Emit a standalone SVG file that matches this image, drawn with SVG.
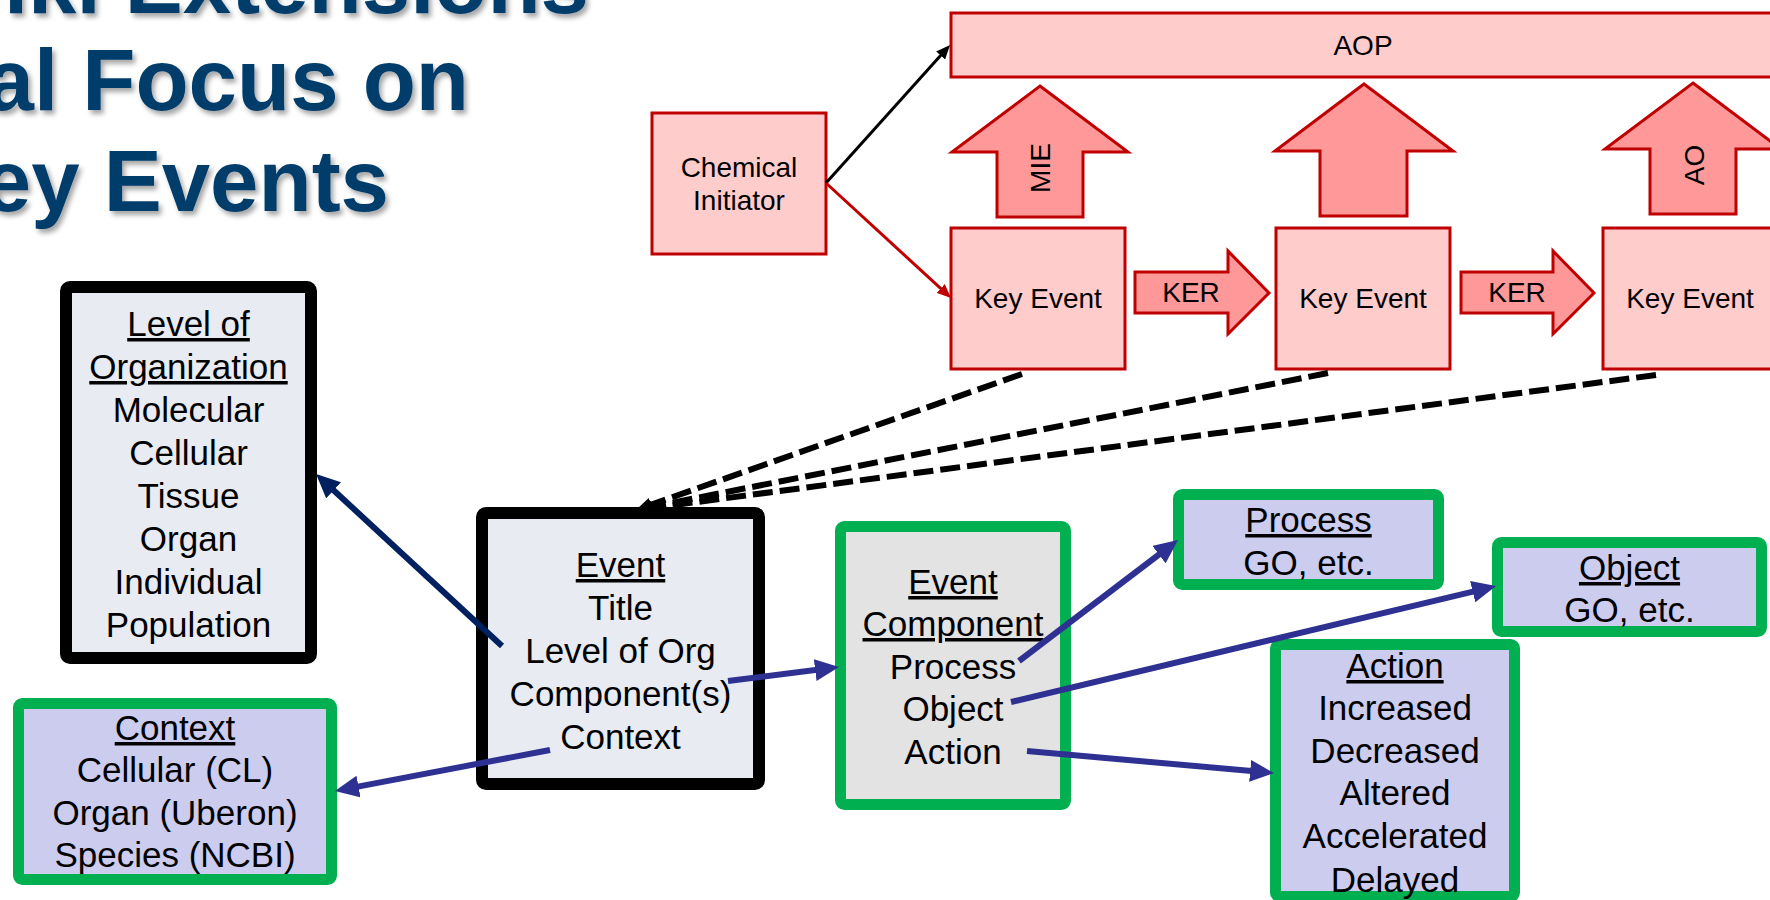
<svg xmlns="http://www.w3.org/2000/svg" width="1770" height="900" viewBox="0 0 1770 900">
  <defs>
    <style>
      .title { font-family: "Liberation Sans", Arial, sans-serif; font-weight: bold; font-size: 87px; fill: #003D6B; }
      .red-box { fill: #FFCCCC; stroke: #C00000; stroke-width: 3; }
      .block-arrow { fill: #FF9999; stroke: #C00000; stroke-width: 3; stroke-linejoin: miter; }
      .lbl28 { font-family: "Liberation Sans", Arial, sans-serif; font-size: 28px; fill: #000; text-anchor: middle; }
      .lbl35 { font-family: "Liberation Sans", Arial, sans-serif; font-size: 35px; fill: #000; text-anchor: middle; }
      .u { text-decoration: underline; }
      .black-frame { fill: #E8EBF1; stroke: #000; stroke-width: 12; }
      .green-frame { stroke: #00B050; stroke-width: 11; }
      .lav { fill: #CCCCEE; }
      .gray { fill: #E3E3E3; }
      .blue-link { stroke: #2E3192; stroke-width: 6; fill: none; }
      .navy-link { stroke: #002060; stroke-width: 6; fill: none; }
      .dash-link { stroke: #000; stroke-width: 6; fill: none; stroke-dasharray: 20 7; }
    </style>
    <filter id="shadow" x="-10%" y="-20%" width="120%" height="150%">
      <feDropShadow dx="3" dy="4" stdDeviation="2.5" flood-color="#000" flood-opacity="0.35"/>
    </filter>
    <marker id="head-blue" markerUnits="userSpaceOnUse" markerWidth="24" markerHeight="22" refX="10" refY="11" orient="auto">
      <path d="M0,0 L24,11 L0,22 z" fill="#2E3192"/>
    </marker>
    <marker id="head-navy" markerUnits="userSpaceOnUse" markerWidth="24" markerHeight="22" refX="10" refY="11" orient="auto">
      <path d="M0,0 L24,11 L0,22 z" fill="#002060"/>
    </marker>
    <marker id="head-black" markerUnits="userSpaceOnUse" markerWidth="14" markerHeight="12" refX="8" refY="6" orient="auto">
      <path d="M0,0 L14,6 L0,12 z" fill="#000"/>
    </marker>
    <marker id="head-red" markerUnits="userSpaceOnUse" markerWidth="14" markerHeight="12" refX="8" refY="6" orient="auto">
      <path d="M0,0 L14,6 L0,12 z" fill="#C00000"/>
    </marker>
    <marker id="head-dash" markerUnits="userSpaceOnUse" markerWidth="16" markerHeight="14" refX="8" refY="7" orient="auto">
      <path d="M0,0 L16,7 L0,14 z" fill="#000"/>
    </marker>
  </defs>

  <rect width="1770" height="900" fill="#FFFFFF"/>

  <!-- Slide title (runs off the left and top edges) -->
  <g id="title" filter="url(#shadow)">
    <text class="title" x="589" y="13" text-anchor="end">Wiki Extensions</text>
    <text class="title" x="469" y="110" text-anchor="end">al Focus on</text>
    <text class="title" x="389" y="211" text-anchor="end" font-size="86">ey Events</text>
  </g>

  <!-- AOP chain -->
  <g id="aop">
    <rect class="red-box" x="951" y="13" width="1000" height="64"/>
    <text class="lbl28" x="1363" y="55">AOP</text>
  </g>
  <g id="chemical-initiator">
    <rect class="red-box" x="652" y="113" width="174" height="141"/>
    <text class="lbl28" x="739" y="177">Chemical</text>
    <text class="lbl28" x="739" y="210">Initiator</text>
  </g>
  <g id="key-event-1">
    <rect class="red-box" x="951" y="228" width="174" height="141"/>
    <text class="lbl28" x="1038" y="308">Key Event</text>
  </g>
  <g id="key-event-2">
    <rect class="red-box" x="1276" y="228" width="174" height="141"/>
    <text class="lbl28" x="1363" y="308">Key Event</text>
  </g>
  <g id="key-event-3">
    <rect class="red-box" x="1603" y="228" width="174" height="141"/>
    <text class="lbl28" x="1690" y="308">Key Event</text>
  </g>
  <g id="mie-arrow">
    <polygon class="block-arrow" points="1040,86 1128,152 1083,152 1083,217 997,217 997,152 952,152"/>
    <text class="lbl28" transform="translate(1050,168) rotate(-90)">MIE</text>
  </g>
  <g id="ke-arrow">
    <polygon class="block-arrow" points="1364,84 1453,151 1407,151 1407,216 1320,216 1320,151 1275,151"/>
  </g>
  <g id="ao-arrow">
    <polygon class="block-arrow" points="1693,83 1781,149 1736,149 1736,214 1650,214 1650,149 1605,149"/>
    <text class="lbl28" transform="translate(1704,165) rotate(-90)">AO</text>
  </g>
  <g id="ker-1">
    <polygon class="block-arrow" points="1135,272 1228,272 1228,251 1269,293 1228,334 1228,313 1135,313"/>
    <text class="lbl28" x="1191" y="302">KER</text>
  </g>
  <g id="ker-2">
    <polygon class="block-arrow" points="1461,272 1553,272 1553,251 1594,293 1553,334 1553,313 1461,313"/>
    <text class="lbl28" x="1517" y="302">KER</text>
  </g>

  <!-- Event model -->
  <g id="level-of-organization">
    <rect class="black-frame" x="66" y="287" width="245" height="371" rx="4"/>
    <text class="lbl35 u" x="188.5" y="336">Level of</text>
    <text class="lbl35 u" x="188.5" y="379">Organization</text>
    <text class="lbl35" x="188.5" y="422">Molecular</text>
    <text class="lbl35" x="188.5" y="465">Cellular</text>
    <text class="lbl35" x="188.5" y="508">Tissue</text>
    <text class="lbl35" x="188.5" y="551">Organ</text>
    <text class="lbl35" x="188.5" y="594">Individual</text>
    <text class="lbl35" x="188.5" y="637">Population</text>
  </g>
  <g id="event">
    <rect class="black-frame" x="482" y="513" width="277" height="271" rx="4"/>
    <text class="lbl35 u" x="620.5" y="577">Event</text>
    <text class="lbl35" x="620.5" y="620">Title</text>
    <text class="lbl35" x="620.5" y="663">Level of Org</text>
    <text class="lbl35" x="620.5" y="706">Component(s)</text>
    <text class="lbl35" x="620.5" y="749">Context</text>
  </g>
  <g id="context">
    <rect class="green-frame lav" x="18.5" y="703.5" width="313" height="176" rx="4"/>
    <text class="lbl35 u" x="175" y="740">Context</text>
    <text class="lbl35" x="175" y="782">Cellular (CL)</text>
    <text class="lbl35" x="175" y="825">Organ (Uberon)</text>
    <text class="lbl35" x="175" y="867">Species (NCBI)</text>
  </g>
  <g id="event-component">
    <rect class="green-frame gray" x="840.5" y="526.5" width="225" height="278" rx="4"/>
    <text class="lbl35 u" x="953" y="594">Event</text>
    <text class="lbl35 u" x="953" y="636">Component</text>
    <text class="lbl35" x="953" y="679">Process</text>
    <text class="lbl35" x="953" y="721">Object</text>
    <text class="lbl35" x="953" y="764">Action</text>
  </g>
  <g id="process">
    <rect class="green-frame lav" x="1178.5" y="494.5" width="260" height="90" rx="4"/>
    <text class="lbl35 u" x="1308.5" y="532">Process</text>
    <text class="lbl35" x="1308.5" y="575">GO, etc.</text>
  </g>
  <g id="object">
    <rect class="green-frame lav" x="1497.5" y="542.5" width="264" height="89" rx="4"/>
    <text class="lbl35 u" x="1629.5" y="580">Object</text>
    <text class="lbl35" x="1629.5" y="622">GO, etc.</text>
  </g>
  <g id="action">
    <rect class="green-frame lav" x="1275.5" y="644.5" width="239" height="252" rx="4"/>
    <text class="lbl35 u" x="1395" y="678">Action</text>
    <text class="lbl35" x="1395" y="720">Increased</text>
    <text class="lbl35" x="1395" y="763">Decreased</text>
    <text class="lbl35" x="1395" y="805">Altered</text>
    <text class="lbl35" x="1395" y="848">Accelerated</text>
    <text class="lbl35" x="1395" y="892">Delayed</text>
  </g>

  <!-- Connectors -->
  <g id="connectors">
    <line x1="826" y1="183" x2="946" y2="49.5" stroke="#000" stroke-width="3" marker-end="url(#head-black)"/>
    <line x1="826" y1="183" x2="946.6" y2="293.9" stroke="#C00000" stroke-width="3" marker-end="url(#head-red)"/>
    <line class="dash-link" x1="1022" y1="374" x2="643.5" y2="507.3" marker-end="url(#head-dash)"/>
    <line class="dash-link" x1="1328" y1="373" x2="643.8" y2="508.4" marker-end="url(#head-dash)"/>
    <line class="dash-link" x1="1656" y1="375" x2="643.9" y2="509" marker-end="url(#head-dash)"/>
    <line class="navy-link" x1="502" y1="646" x2="326.3" y2="483.5" marker-end="url(#head-navy)"/>
    <line class="blue-link" x1="550" y1="750" x2="348.7" y2="788.4" marker-end="url(#head-blue)"/>
    <line class="blue-link" x1="728" y1="681" x2="825.1" y2="668.75" marker-end="url(#head-blue)"/>
    <line class="blue-link" x1="1019" y1="661" x2="1166.9" y2="548.5" marker-end="url(#head-blue)"/>
    <line class="blue-link" x1="1011" y1="702" x2="1482.4" y2="589.3" marker-end="url(#head-blue)"/>
    <line class="blue-link" x1="1027" y1="751" x2="1260.1" y2="771.8" marker-end="url(#head-blue)"/>
  </g>
</svg>
